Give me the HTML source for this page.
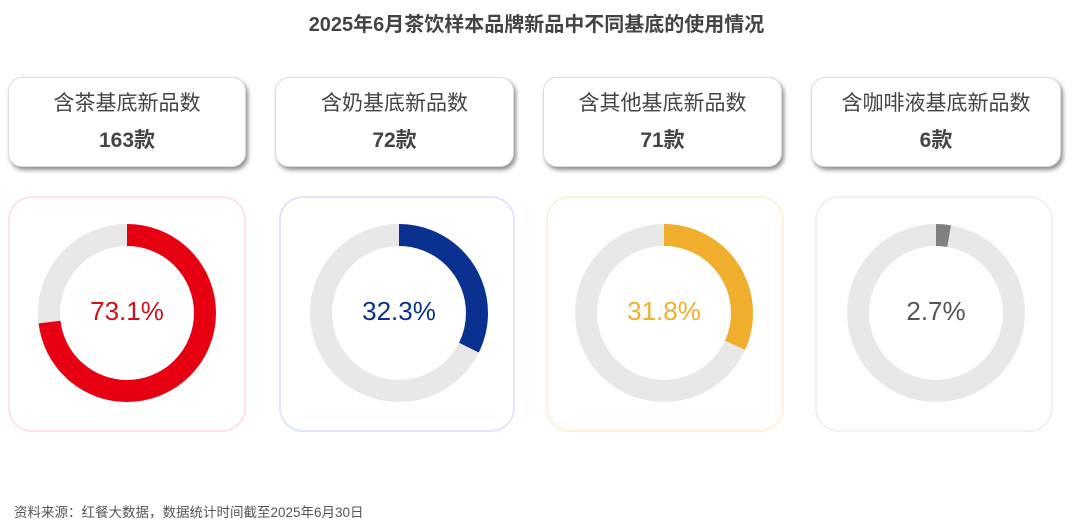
<!DOCTYPE html><html><head><meta charset="utf-8"><style>
body{margin:0;width:1073px;height:532px;background:#fff;font-family:"Liberation Sans","Noto Sans CJK SC",sans-serif;position:relative;overflow:hidden;color:#444}
.t{position:absolute;top:8px;left:0;width:1073px;text-align:center;font-size:20px;font-weight:bold;color:#444}
.c{position:absolute;top:77px;height:90px;border-radius:14px;box-shadow:2px 3px 4px rgba(0,0,0,.45);background:#fff;text-align:center;box-sizing:border-box;border:1px solid #ddd}
.c .a{font-size:21px;margin-top:9px;color:#444}.c .b{font-size:21px;font-weight:bold;margin-top:7px;color:#444}
.p{position:absolute;top:196px;height:236px;border-radius:24px;box-sizing:border-box;background:#fff}
.f{position:absolute;left:14px;top:501px;font-size:13.5px;color:#555}
</style></head><body>
<div class="t">2025年6月茶饮样本品牌新品中不同基底的使用情况</div>
<div class="c" style="left:8px;width:238px"><div class="a">含茶基底新品数</div><div class="b">163款</div></div>
<div class="c" style="left:275px;width:239px"><div class="a">含奶基底新品数</div><div class="b">72款</div></div>
<div class="c" style="left:543px;width:239px"><div class="a">含其他基底新品数</div><div class="b">71款</div></div>
<div class="c" style="left:811px;width:250px"><div class="a">含咖啡液基底新品数</div><div class="b">6款</div></div>
<div class="p" style="left:8px;width:238px;border:2px solid #fde3e3"></div>
<div class="p" style="left:279px;width:236px;border:2px solid #dfe6fb"></div>
<div class="p" style="left:546px;width:238px;border:2px solid #fbf3dc"></div>
<div class="p" style="left:815px;width:238px;border:2px solid #f1f1f1"></div>
<svg width="1073" height="532" style="position:absolute;left:0;top:0" font-family="Liberation Sans,sans-serif" font-size="26" text-anchor="middle">
<g fill="none" stroke-width="22">
<circle cx="127" cy="313" r="78" stroke="#e8e8e8"/>
<circle cx="127" cy="313" r="78" stroke="#e60012" stroke-dasharray="358.3 490" transform="rotate(-90 127 313)"/>
<circle cx="399" cy="313" r="78" stroke="#e8e8e8"/>
<circle cx="399" cy="313" r="78" stroke="#0a3190" stroke-dasharray="158.3 490" transform="rotate(-90 399 313)"/>
<circle cx="664" cy="313" r="78" stroke="#e8e8e8"/>
<circle cx="664" cy="313" r="78" stroke="#efae2c" stroke-dasharray="155.8 490" transform="rotate(-90 664 313)"/>
<circle cx="936" cy="313" r="78" stroke="#e8e8e8"/>
<circle cx="936" cy="313" r="78" stroke="#808080" stroke-dasharray="13.2 490" transform="rotate(-90 936 313)"/>
</g>
<text x="127" y="320" fill="#d0101a">73.1%</text>
<text x="399" y="320" fill="#0a3190">32.3%</text>
<text x="664" y="320" fill="#efae2c">31.8%</text>
<text x="936" y="320" fill="#555">2.7%</text>
</svg>
<div class="f">资料来源：红餐大数据，数据统计时间截至2025年6月30日</div>
</body></html>
